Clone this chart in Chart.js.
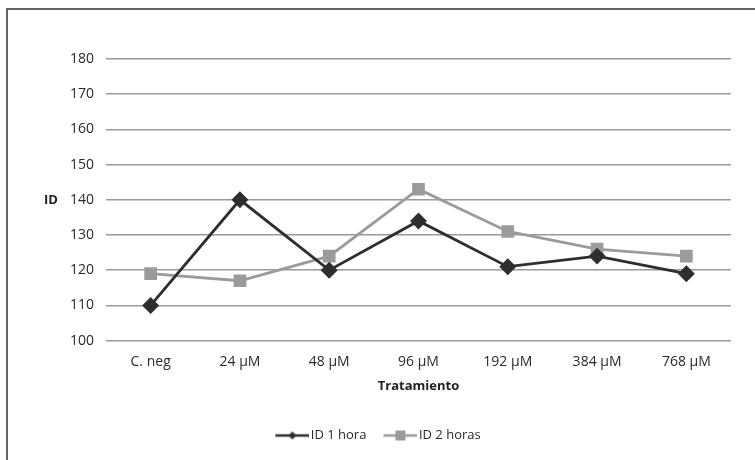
<!DOCTYPE html>
<html>
<head>
<meta charset="utf-8">
<script src="https://cdn.jsdelivr.net/npm/chart.js@4"></script>
<style>
  html, body { margin: 0; padding: 0; background: #fff; }
  #wrap { width: 755px; height: 460px; position: relative; }
</style>
</head>
<body>
<div id="wrap"><canvas id="graphCanvas"></canvas></div>
<script>
var categories = ['C. neg', '24 µM', '48 µM', '96 µM', '192 µM', '384 µM', '768 µM'];
var id1hora = [110, 140, 120, 134, 121, 124, 119];
var id2horas = [119, 117, 124, 143, 131, 126, 124];
var yTicks = [100, 110, 120, 130, 140, 150, 160, 170, 180];

var dark = '#2e2e2e';
var grey = '#9b9b9b';
var fontFam = '"Open Sans", "Noto Sans", sans-serif';

// legend swatch: line with marker in the middle (left part transparent so it sits close to the text)
function swatch(color, shape) {
    var c = document.createElement('canvas');
    c.width = 44; c.height = 14;
    var g = c.getContext('2d');
    g.strokeStyle = color;
    g.lineWidth = 2.5;
    g.beginPath(); g.moveTo(10, 7); g.lineTo(44, 7); g.stroke();
    g.fillStyle = color;
    if (shape == 'diamond') {
        g.beginPath(); g.moveTo(27, 3); g.lineTo(31, 7); g.lineTo(27, 11); g.lineTo(23, 7); g.closePath(); g.fill();
    } else {
        g.fillRect(22, 2, 10, 10);
    }
    return c;
}

// frame + horizontal "ID" axis label
var extras = {
    id: 'extras',
    beforeDraw: function (chart) {
        var ctx = chart.ctx;
        ctx.save();
        ctx.strokeStyle = '#333';
        ctx.lineWidth = 1.5;
        ctx.strokeRect(7, 9, 800, 500);
        ctx.restore();
    },
    afterDraw: function (chart) {
        var ctx = chart.ctx;
        var y = chart.scales.y.getPixelForValue(140);
        ctx.save();
        ctx.font = 'bold 13px ' + fontFam;
        ctx.fillStyle = '#222';
        ctx.textAlign = 'center';
        ctx.textBaseline = 'middle';
        ctx.fillText('ID', 51, y);
        ctx.restore();
    }
};

var chartdata = {
    labels: categories,
    datasets: [
        {
            label: 'ID 1 hora',
            data: id1hora,
            borderColor: dark,
            backgroundColor: dark,
            borderWidth: 2.8,
            pointStyle: 'rectRot',
            pointRadius: 6.5,
            pointHoverRadius: 6.5,
            tension: 0
        },
        {
            label: 'ID 2 horas',
            data: id2horas,
            borderColor: grey,
            backgroundColor: grey,
            borderWidth: 2.8,
            pointStyle: 'rect',
            pointRadius: 7,
            pointHoverRadius: 7,
            tension: 0
        }
    ]
};

var lineGraph = new Chart(document.getElementById('graphCanvas'), {
    type: 'line',
    data: chartdata,
    plugins: [extras],
    options: {
        responsive: true,
        maintainAspectRatio: false,
        animation: false,
        layout: { padding: { left: 20, right: 24, top: 59, bottom: 8 } },
        plugins: {
            tooltip: { enabled: false },
            legend: {
                position: 'bottom',
                labels: {
                    usePointStyle: true,
                    pointStyleWidth: 34,
                    boxHeight: 14,
                    color: '#2a2a2a',
                    font: { family: fontFam, size: 13 },
                    padding: 12,
                    generateLabels: function (chart) {
                        return chart.data.datasets.map(function (ds, i) {
                            return {
                                text: ds.label,
                                fontColor: '#2a2a2a',
                                pointStyle: swatch(ds.borderColor, i == 0 ? 'diamond' : 'square'),
                                datasetIndex: i,
                                lineWidth: 0,
                                hidden: false
                            };
                        });
                    }
                }
            }
        },
        scales: {
            x: {
                offset: true,
                grid: { display: false, drawTicks: false },
                border: { display: false },
                ticks: { color: '#2a2a2a', font: { family: fontFam, size: 14 }, padding: 13 },
                title: {
                    display: true,
                    text: 'Tratamiento',
                    color: '#222',
                    font: { family: fontFam, size: 13, weight: 'bold' },
                    padding: { top: -5, bottom: 23 }
                }
            },
            y: {
                min: 100,
                max: 180,
                afterBuildTicks: function (scale) {
                    scale.ticks = yTicks.map(function (v) { return { value: v }; });
                },
                afterFit: function (scale) { scale.width = 86; },
                grid: { color: '#9a9a9a', lineWidth: 1.5, drawTicks: false },
                border: { display: false },
                ticks: { color: '#2a2a2a', font: { family: fontFam, size: 14 }, padding: 12 }
            }
        }
    }
});
</script>
</body>
</html>
